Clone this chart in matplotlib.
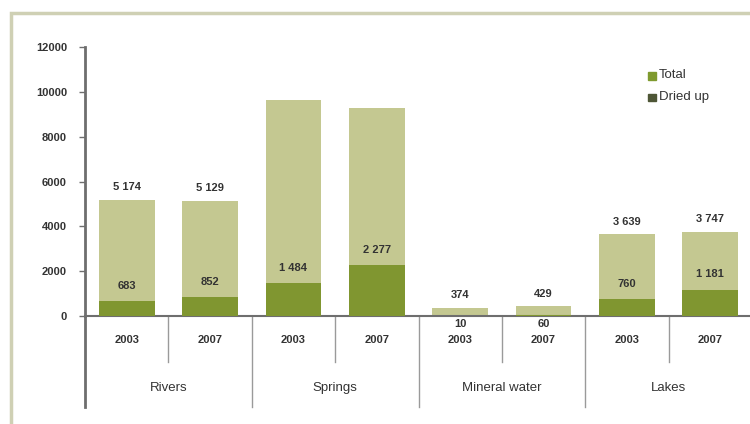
import matplotlib.pyplot as plt
from matplotlib.patches import Rectangle

plt.rcParams['font.family'] = ['Liberation Sans', 'DejaVu Sans']

groups = ['Rivers', 'Springs', 'Mineral water', 'Lakes']
years = ['2003', '2007']
total = [5174, 5129, 9650, 9280, 374, 429, 3639, 3747]
dried = [683, 852, 1484, 2277, 10, 60, 760, 1181]
total_labels = ['5 174', '5 129', '', '', '374', '429', '3 639', '3 747']
dried_labels = ['683', '852', '1 484', '2 277', '10', '60', '760', '1 181']

c_total = '#c4c891'
c_dried = '#809630'
c_text = '#333333'
c_axis = '#6e6e6e'

fig = plt.figure(figsize=(7.5, 4.24), dpi=100)
fig.patch.set_facecolor('white')
# frame round the chart
fig.patches.append(Rectangle((11 / 750, -0.1), 1.2, (424 - 13) / 424 + 0.1,
                             transform=fig.transFigure, fill=False,
                             edgecolor='#cfd0b4', linewidth=2.5))

ax = fig.add_axes([85 / 750, 108 / 424, 667 / 750, 269 / 424])
x = list(range(len(total)))
ax.bar(x, total, width=0.67, color=c_total, zorder=2)
ax.bar(x, dried, width=0.67, color=c_dried, zorder=3)

ax.set_xlim(-0.5, 7.5)
ax.set_ylim(0, 12000)
ax.set_yticks(range(0, 12001, 2000))
ax.set_yticklabels([str(v) for v in range(0, 12001, 2000)],
                   fontsize=8, fontweight='bold', color=c_text)
ax.tick_params(axis='y', length=4, width=1, color=c_axis, pad=9)
ax.set_xticks([])
for s in ['top', 'right']:
    ax.spines[s].set_visible(False)
ax.spines['left'].set_color(c_axis)
ax.spines['left'].set_linewidth(2)
ax.spines['bottom'].set_color(c_axis)
ax.spines['bottom'].set_linewidth(1.5)

# value labels
for i in x:
    if total_labels[i]:
        ax.text(i, total[i] + 350, total_labels[i], ha='center', va='bottom',
                fontsize=8, fontweight='bold', color=c_text)
    if i in (4, 5):
        ax.text(i, -150, dried_labels[i], ha='center', va='top',
                fontsize=8, fontweight='bold', color=c_text)
    else:
        ax.text(i, dried[i] + 450, dried_labels[i], ha='center', va='bottom',
                fontsize=8, fontweight='bold', color=c_text)

# two-level category axis below the plot
tr = ax.get_xaxis_transform()
px = 1 / 269
for k in range(1, 8):
    bottom = -91 * px if k % 2 == 0 else -46 * px
    ax.plot([k - 0.5, k - 0.5], [0, bottom], transform=tr, color='#9a9a9a',
            linewidth=1, clip_on=False)
ax.plot([-0.5, -0.5], [0, -91 * px], transform=tr, color=c_axis,
        linewidth=2, clip_on=False)
for i in x:
    ax.text(i, -24 * px, years[i % 2], transform=tr, ha='center', va='center',
            fontsize=8, fontweight='bold', color=c_text)
for g, name in enumerate(groups):
    ax.text(2 * g + 0.5, -72 * px, name, transform=tr, ha='center',
            va='center', fontsize=9.5, color=c_text)

# legend
fig.patches.append(Rectangle((648 / 750, (424 - 80) / 424), 8 / 750, 8 / 424,
                             transform=fig.transFigure, color='#7f9a2e'))
fig.patches.append(Rectangle((648 / 750, (424 - 101) / 424), 8 / 750, 7 / 424,
                             transform=fig.transFigure, color='#4e5636'))
fig.text(659 / 750, (424 - 75) / 424, 'Total', fontsize=9.5, color=c_text,
         va='center')
fig.text(659 / 750, (424 - 97) / 424, 'Dried up', fontsize=9.5, color=c_text,
         va='center')

fig.savefig('out.png', dpi=100)
